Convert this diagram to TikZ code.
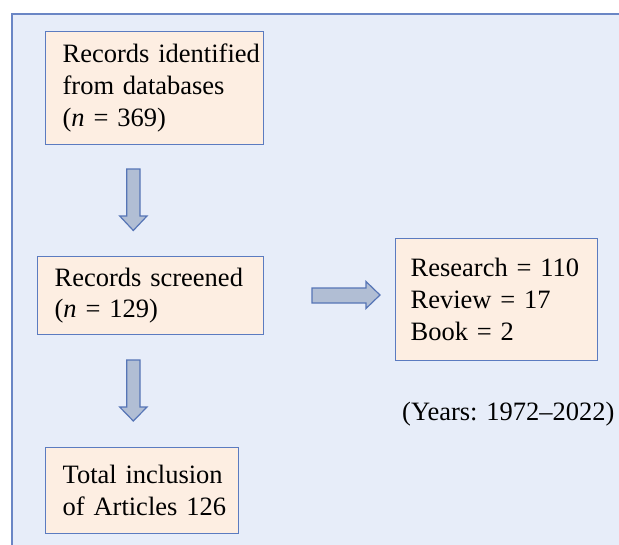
\documentclass[tikz,border=0pt]{standalone}
\usepackage{fontspec}
\setmainfont{Liberation Serif}
\definecolor{bgblue}{HTML}{E7EDF9}
\definecolor{framec}{HTML}{6A86C5}
\definecolor{boxfill}{HTML}{FDEEE2}
\definecolor{boxline}{HTML}{5B7BC0}
\definecolor{arrfill}{HTML}{B1BED4}
\definecolor{arrline}{HTML}{5675B6}
\tikzset{
  box/.style={draw=boxline, line width=1.3pt, fill=boxfill, anchor=north west,
    align=left, inner sep=0pt, font=\fontsize{26.5}{31.8}\selectfont},
  blockarrow/.style={draw=arrline, line width=1.2pt, fill=arrfill, line join=miter},
  lbl/.style={inner sep=0pt, font=\fontsize{26.5}{31.8}\selectfont}
}
\begin{document}
\begin{tikzpicture}[x=1pt,y=-1pt]
\useasboundingbox (0,0) rectangle (619,544);
\clip (0,0) rectangle (619,544);
\fill[white] (0,0) rectangle (619,544);
\draw[framec, line width=1.4pt, fill=bgblue] (12,14) rectangle (640,570);

% boxes (text width = box width - 2 x left padding, so lines start at the padding)
\node[box, minimum width=218pt, minimum height=113pt, text width=184pt] (b1) at (45,31)
  {\mbox{Records identified}\\\mbox{from databases}\\(\textit{n} = 369)};
\node[box, minimum width=226pt, minimum height=78pt, text width=192pt] (b2) at (37,256)
  {\mbox{Records screened}\\(\textit{n} = 129)};
\node[box, minimum width=202pt, minimum height=122pt, text width=172pt] (b3) at (395,238)
  {\mbox{Research = 110}\\Review = 17\\Book = 2};
\node[box, minimum width=193pt, minimum height=86pt, text width=159pt] (b4) at (45,447)
  {\mbox{Total inclusion}\\\mbox{of Articles 126}};
\node[lbl, anchor=base west] (yrs) at (402,420) {(Years: 1972\textendash2022)};

% block arrows
\draw[blockarrow] (126.7,169) -- (140,169) -- (140,216) -- (147,216) -- (133.3,230.5)
  -- (119.7,216) -- (126.7,216) -- cycle;
\draw[blockarrow] (126.7,360) -- (140,360) -- (140,407) -- (147,407) -- (133.3,421)
  -- (119.7,407) -- (126.7,407) -- cycle;
\draw[blockarrow] (312,288) -- (366,288) -- (366,281.5) -- (380,295) -- (366,308.5)
  -- (366,303) -- (312,303) -- cycle;
\end{tikzpicture}
\end{document}
